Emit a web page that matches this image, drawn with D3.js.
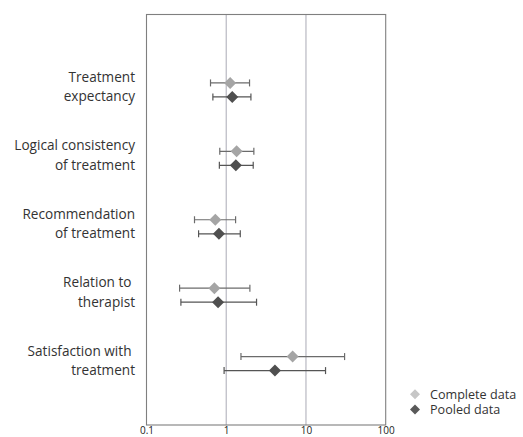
<!DOCTYPE html>
<html><head><meta charset="utf-8">
<script src="https://cdn.jsdelivr.net/npm/d3@7"></script>
<style>
html,body{margin:0;padding:0;background:#fff;}
svg{display:block;font-family:"Open Sans",sans-serif;}
</style></head>
<body><svg id="c" width="523" height="437"></svg>
<script>
const categories = [
  ["Treatment", "expectancy"],
  ["Logical consistency", "of treatment"],
  ["Recommendation", "of treatment"],
  ["Relation to ", "therapist"],
  ["Satisfaction with ", "treatment"]
];
const completeEst = [1.12, 1.35, 0.73, 0.71, 6.8];
const completeLo  = [0.635, 0.83, 0.40, 0.26, 1.53];
const completeHi  = [1.96, 2.22, 1.31, 1.98, 30.5];
const pooledEst = [1.19, 1.32, 0.81, 0.79, 4.08];
const pooledLo  = [0.68, 0.82, 0.45, 0.27, 0.94];
const pooledHi  = [2.04, 2.18, 1.50, 2.40, 17.6];
const xTicks = [0.1, 1, 10, 100];
const tickLabels = ["0.1", "1", "10", "100"];
const seriesNames = ["Complete data", "Pooled data"];

const svg = d3.select("#c");
const L = 146.5, R = 385.7, T = 14.5, B = 425;
const x = d3.scaleLog().domain([0.1, 100]).range([L, R]);
const y = d3.scaleLinear().domain([0, 6]).range([T, B]);

// gridlines at 1 and 10
svg.append("g").selectAll("line").data([1, 10]).join("line")
  .attr("x1", d => x(d)).attr("x2", d => x(d))
  .attr("y1", T).attr("y2", B)
  .attr("stroke", "#b9b9c2").attr("stroke-width", 1.2);

// plot border
svg.append("rect").attr("x", L).attr("y", T).attr("width", R - L).attr("height", B - T)
  .attr("fill", "none").attr("stroke", "#7f7f7f").attr("stroke-width", 1.1);

// x axis labels
const xAxis = d3.axisBottom(x).tickValues(xTicks).tickFormat((d, i) => tickLabels[i]).tickSize(0).tickPadding(3);
const gx = svg.append("g").attr("transform", `translate(0,${B})`).call(xAxis);
gx.select(".domain").remove();
gx.selectAll("text").attr("font-family", "Open Sans, sans-serif").attr("font-size", 10).attr("fill", "#222")
  .attr("y", 5.6).attr("dy", "0.35em");

// category labels
const lab = svg.append("g");
categories.forEach((c, i) => {
  const cy = y(i + 1);
  const t = lab.append("text").attr("text-anchor", "end").attr("font-size", 13.6).attr("fill", "#333")
    .style("white-space", "pre");
  t.append("tspan").attr("x", 135).attr("y", cy - 5.7).attr("dy", "0.35em").text(c[0]);
  t.append("tspan").attr("x", 135).attr("y", cy + 13.6).attr("dy", "0.35em").text(c[1]);
});

const series = [
  {est: completeEst, lo: completeLo, hi: completeHi, off: 0, color: "#a5a5a5", bar: "#6b6b6b"},
  {est: pooledEst, lo: pooledLo, hi: pooledHi, off: 0.205, color: "#4f4f4f", bar: "#555"}
];

series.forEach(s => {
  const g = svg.append("g");
  const rows = s.est.map((v, i) => ({v, lo: s.lo[i], hi: s.hi[i], yy: y(i + 1 + s.off)}));
  g.selectAll("line.bar").data(rows).join("line")
    .attr("x1", d => x(d.lo)).attr("x2", d => x(d.hi)).attr("y1", d => d.yy).attr("y2", d => d.yy)
    .attr("stroke", s.bar).attr("stroke-width", 1.2);
  g.selectAll("line.capl").data(rows).join("line")
    .attr("x1", d => x(d.lo)).attr("x2", d => x(d.lo)).attr("y1", d => d.yy - 3.5).attr("y2", d => d.yy + 3.5)
    .attr("stroke", s.bar).attr("stroke-width", 1.2);
  g.selectAll("line.caph").data(rows).join("line")
    .attr("x1", d => x(d.hi)).attr("x2", d => x(d.hi)).attr("y1", d => d.yy - 3.5).attr("y2", d => d.yy + 3.5)
    .attr("stroke", s.bar).attr("stroke-width", 1.2);
  g.selectAll("path").data(rows).join("path")
    .attr("d", "M0,-6L6,0L0,6L-6,0Z")
    .attr("transform", d => `translate(${x(d.v)},${d.yy})`)
    .attr("fill", s.color);
});

// legend
const lg = svg.append("g");
const legColors = ["#c6c6c6", "#595959"];
seriesNames.forEach((n, i) => {
  const ly = 394.2 + i * 15.4;
  lg.append("path").attr("d", "M0,-5L5,0L0,5L-5,0Z").attr("transform", `translate(415,${ly})`).attr("fill", legColors[i]);
  lg.append("text").attr("x", 430).attr("y", ly).attr("dy", "0.35em").attr("font-size", 12.6).attr("fill", "#333").text(n);
});
</script></body></html>
